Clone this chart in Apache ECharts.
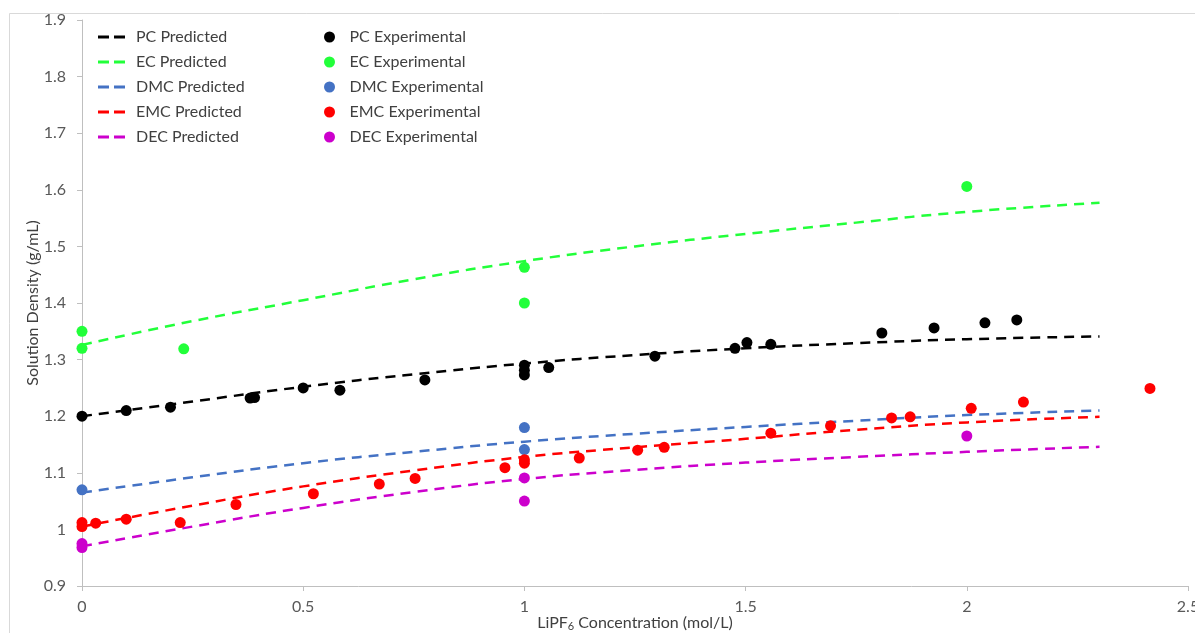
<!DOCTYPE html>
<html>
<head>
<meta charset="utf-8">
<script src="https://cdn.jsdelivr.net/npm/echarts@6/dist/echarts.min.js"></script>
<style>
html,body{margin:0;padding:0;background:#fff;}
#chart{width:1195px;height:633px;}
</style>
</head>
<body>
<div id="chart"></div>
<script>
// Predicted curves (read at these concentrations)
const predX = [0, 0.25, 0.5, 0.75, 1.0, 1.25, 1.5, 1.75, 2.0, 2.3];
const pcPred  = [1.200, 1.226, 1.252, 1.274, 1.293, 1.308, 1.320, 1.329, 1.336, 1.341];
const ecPred  = [1.326, 1.368, 1.405, 1.442, 1.474, 1.500, 1.522, 1.542, 1.561, 1.577];
const dmcPred = [1.065, 1.092, 1.117, 1.137, 1.155, 1.169, 1.181, 1.192, 1.202, 1.210];
const emcPred = [1.005, 1.042, 1.076, 1.104, 1.128, 1.145, 1.160, 1.176, 1.189, 1.199];
const decPred = [0.970, 1.005, 1.038, 1.066, 1.089, 1.105, 1.118, 1.128, 1.137, 1.146];

// Experimental points
const pcExpX = [0, 0.1, 0.2, 0.38, 0.39, 0.5, 0.583, 0.775, 1.0, 1.0, 1.0, 1.055, 1.295, 1.476, 1.503, 1.557, 1.808, 1.926, 2.041, 2.113];
const pcExpY = [1.200, 1.210, 1.216, 1.232, 1.233, 1.250, 1.246, 1.264, 1.290, 1.281, 1.273, 1.286, 1.306, 1.320, 1.330, 1.327, 1.347, 1.356, 1.365, 1.370];
const ecExpX = [0, 0, 0.23, 1.0, 1.0, 2.0];
const ecExpY = [1.350, 1.320, 1.319, 1.463, 1.400, 1.606];
const dmcExpX = [0, 1.0, 1.0];
const dmcExpY = [1.070, 1.180, 1.141];
const emcExpX = [0, 0, 0.031, 0.1, 0.222, 0.348, 0.523, 0.672, 0.753, 0.956, 1.0, 1.0, 1.124, 1.256, 1.316, 1.557, 1.692, 1.830, 1.872, 2.010, 2.128, 2.414];
const emcExpY = [1.012, 1.005, 1.011, 1.018, 1.012, 1.044, 1.063, 1.080, 1.090, 1.109, 1.123, 1.117, 1.126, 1.140, 1.145, 1.170, 1.183, 1.197, 1.199, 1.214, 1.225, 1.249];
const decExpX = [0, 0, 1.0, 1.0, 2.0];
const decExpY = [0.975, 0.968, 1.091, 1.050, 1.165];

const yTicks = [0.9, 1.9, 0.1];
const xTicks = [0, 2.5, 0.5];

const predNames = ['PC Predicted', 'EC Predicted', 'DMC Predicted', 'EMC Predicted', 'DEC Predicted'];
const expNames = ['PC Experimental', 'EC Experimental', 'DMC Experimental', 'EMC Experimental', 'DEC Experimental'];
const colors = ['#000000', '#22ff3a', '#4472c4', '#ff0000', '#cc00cc'];

const zip = (xs, ys) => xs.map((x, i) => [x, ys[i]]);
const preds = [pcPred, ecPred, dmcPred, emcPred, decPred];
const exps = [[pcExpX, pcExpY], [ecExpX, ecExpY], [dmcExpX, dmcExpY], [emcExpX, emcExpY], [decExpX, decExpY]];

const FONT = 'Lato, "Open Sans", sans-serif';
const DASH_ICON = 'path://M0,0 H11 V3 H0 Z M16,0 H27 V3 H16 Z';
const series = [];
preds.forEach((p, i) => {
  series.push({
    name: predNames[i], type: 'line', smooth: true, symbol: 'none',
    data: zip(predX, p),
    lineStyle: { color: colors[i], width: 2.5, type: [10, 7] },
    itemStyle: { color: colors[i] },
    z: 2
  });
});
exps.forEach((e, i) => {
  series.push({
    name: expNames[i], type: 'scatter', symbol: 'circle', symbolSize: 11,
    data: zip(e[0], e[1]),
    itemStyle: { color: colors[i], opacity: 1 },
    z: 3
  });
});

const chart = echarts.init(document.getElementById('chart'), null, { renderer: 'canvas' });
chart.setOption({
  animation: false,
  backgroundColor: '#fff',
  textStyle: { fontFamily: FONT },
  graphic: [{
    type: 'rect', left: 7, top: 11, z: -1,
    shape: { width: 1240, height: 680 },
    style: { fill: 'none', stroke: '#d9d9d9', lineWidth: 1 }
  }],
  grid: { left: 82, right: 7, top: 20, bottom: 47, outerBoundsMode: 'none', containLabel: false },
  legend: [{
    data: predNames.map(n => ({ name: n, icon: DASH_ICON })), orient: 'vertical', left: 93, top: 22,
    itemWidth: 27, itemHeight: 3, itemGap: 5,
    textStyle: { fontFamily: FONT, fontSize: 16, color: '#404040', padding: [0, 0, 0, 6], lineHeight: 20 }
  }, {
    data: expNames, orient: 'vertical', left: 319, top: 22,
    icon: 'circle', itemWidth: 30, itemHeight: 11, itemGap: 5,
    textStyle: { fontFamily: FONT, fontSize: 16, color: '#404040', lineHeight: 20 }
  }],
  xAxis: {
    type: 'value', min: xTicks[0], max: xTicks[1], interval: xTicks[2],
    name: '{a|LiPF}{s|6}{a| Concentration (mol/L)}',
    nameLocation: 'middle', nameGap: 28, nameMoveOverlap: false,
    nameTextStyle: {
      rich: {
        a: { fontFamily: FONT, fontSize: 16, color: '#404040' },
        s: { fontFamily: FONT, fontSize: 11, color: '#404040', verticalAlign: 'bottom', padding: [7, 0, 0, 0] }
      }
    },
    axisLine: { show: true, lineStyle: { color: '#bfbfbf', width: 1 } },
    axisTick: { show: true, length: 5, lineStyle: { color: '#bfbfbf' } },
    axisLabel: { color: '#595959', fontSize: 16, fontFamily: FONT, margin: 13 },
    splitLine: { show: false }
  },
  yAxis: {
    type: 'value', min: yTicks[0], max: yTicks[1], interval: yTicks[2],
    name: 'Solution Density (g/mL)', nameLocation: 'middle', nameGap: 41, nameRotate: 90, nameMoveOverlap: false,
    nameTextStyle: { fontFamily: FONT, fontSize: 16, color: '#404040' },
    axisLine: { show: true, lineStyle: { color: '#bfbfbf', width: 1 } },
    axisTick: { show: true, length: 5, lineStyle: { color: '#bfbfbf' } },
    axisLabel: { color: '#595959', fontSize: 16, fontFamily: FONT, margin: 16 },
    splitLine: { show: false }
  },
  series: series
});
</script>
</body>
</html>
